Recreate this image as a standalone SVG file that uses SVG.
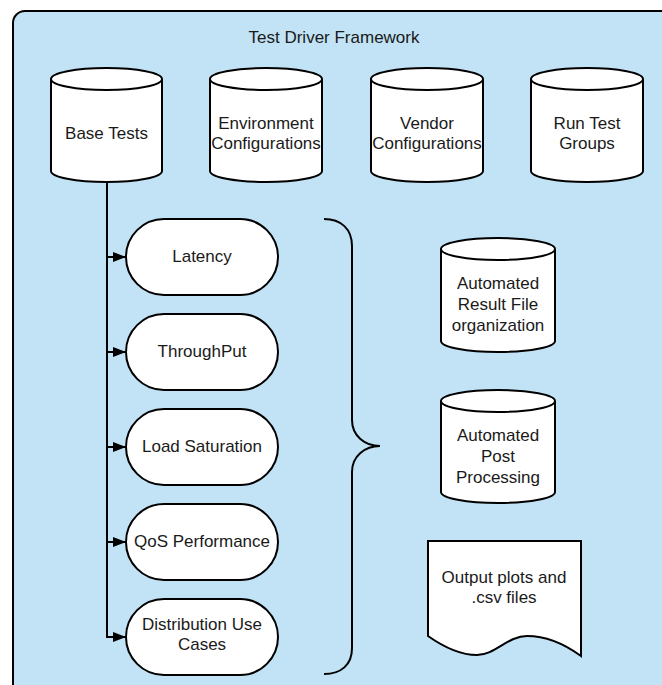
<svg xmlns="http://www.w3.org/2000/svg" width="662" height="685" viewBox="0 0 662 685">
  <style>
    .shape { fill: #ffffff; stroke: #000000; stroke-width: 2; }
    .line { fill: none; stroke: #000000; stroke-width: 2; }
    .label { font-family: "Liberation Sans", Arial, sans-serif; font-size: 17px; fill: #1a1a1a; text-anchor: middle; }
  </style>
  <defs>
    <marker id="arrow" markerUnits="userSpaceOnUse" markerWidth="14" markerHeight="12" refX="13" refY="6" orient="auto">
      <path d="M0,1 L13,6 L0,11 Z" fill="#000000"/>
    </marker>
  </defs>

  <rect width="662" height="685" fill="#ffffff"/>

  <!-- framework container -->
  <g id="framework">
    <rect x="13" y="11" width="720" height="720" rx="12" ry="12" fill="#c1e3f5" stroke="#000000" stroke-width="2"/>
    <text class="label" x="334" y="43">Test Driver Framework</text>
  </g>

  <!-- top row datastores -->
  <g id="base-tests">
    <path class="shape" d="M51,79 A55.5,11 0 0 1 162,79 L162,171 A55.5,11 0 0 1 51,171 Z"/>
    <path class="line" d="M51,79 A55.5,11 0 0 0 162,79"/>
    <text class="label" x="106.5" y="139">Base Tests</text>
  </g>
  <g id="env-config">
    <path class="shape" d="M210,79 A56,11 0 0 1 322,79 L322,171 A56,11 0 0 1 210,171 Z"/>
    <path class="line" d="M210,79 A56,11 0 0 0 322,79"/>
    <text class="label" x="266" y="129">Environment</text>
    <text class="label" x="266" y="149">Configurations</text>
  </g>
  <g id="vendor-config">
    <path class="shape" d="M371,79 A56,11 0 0 1 483,79 L483,171 A56,11 0 0 1 371,171 Z"/>
    <path class="line" d="M371,79 A56,11 0 0 0 483,79"/>
    <text class="label" x="427" y="129">Vendor</text>
    <text class="label" x="427" y="149">Configurations</text>
  </g>
  <g id="run-test-groups">
    <path class="shape" d="M531,79 A56,11 0 0 1 643,79 L643,171 A56,11 0 0 1 531,171 Z"/>
    <path class="line" d="M531,79 A56,11 0 0 0 643,79"/>
    <text class="label" x="587" y="129">Run Test</text>
    <text class="label" x="587" y="149">Groups</text>
  </g>

  <!-- connectors from base tests to test types -->
  <g id="connectors">
    <path class="line" d="M107,182 L107,637"/>
    <path class="line" d="M107,257 L126,257" marker-end="url(#arrow)"/>
    <path class="line" d="M107,352 L126,352" marker-end="url(#arrow)"/>
    <path class="line" d="M107,447 L126,447" marker-end="url(#arrow)"/>
    <path class="line" d="M107,542 L126,542" marker-end="url(#arrow)"/>
    <path class="line" d="M106,637 L126,637" marker-end="url(#arrow)"/>
  </g>

  <!-- test types -->
  <g id="latency">
    <rect class="shape" x="126" y="219" width="152" height="76" rx="38" ry="38"/>
    <text class="label" x="202" y="262">Latency</text>
  </g>
  <g id="throughput">
    <rect class="shape" x="126" y="314" width="152" height="76" rx="38" ry="38"/>
    <text class="label" x="202" y="357">ThroughPut</text>
  </g>
  <g id="load-saturation">
    <rect class="shape" x="126" y="409" width="152" height="76" rx="38" ry="38"/>
    <text class="label" x="202" y="452">Load Saturation</text>
  </g>
  <g id="qos-performance">
    <rect class="shape" x="126" y="504" width="152" height="76" rx="38" ry="38"/>
    <text class="label" x="202" y="547">QoS Performance</text>
  </g>
  <g id="distribution-use-cases">
    <rect class="shape" x="126" y="599" width="152" height="76" rx="38" ry="38"/>
    <text class="label" x="202" y="630">Distribution Use</text>
    <text class="label" x="202" y="650">Cases</text>
  </g>

  <!-- grouping brace -->
  <g id="brace">
    <path class="line" d="M324,219 C341,219 352,229 352,246 L352,420 C352,436 365,446 380,446 C365,446 352,456 352,472 L352,648 C352,665 341,674 324,674"/>
  </g>

  <!-- result handling -->
  <g id="result-organization">
    <path class="shape" d="M441,249 A57,11 0 0 1 555,249 L555,341 A57,11 0 0 1 441,341 Z"/>
    <path class="line" d="M441,249 A57,11 0 0 0 555,249"/>
    <text class="label" x="498" y="289">Automated</text>
    <text class="label" x="498" y="310">Result File</text>
    <text class="label" x="498" y="331">organization</text>
  </g>
  <g id="post-processing">
    <path class="shape" d="M441,401 A57,11 0 0 1 555,401 L555,492 A57,11 0 0 1 441,492 Z"/>
    <path class="line" d="M441,401 A57,11 0 0 0 555,401"/>
    <text class="label" x="498" y="441">Automated</text>
    <text class="label" x="498" y="462">Post</text>
    <text class="label" x="498" y="483">Processing</text>
  </g>
  <g id="output-files">
    <path class="shape" d="M428,541 L581,541 L581,656 C570,648 550,636 527,636 C508,636 495,655 477,655 C460,655 445,648 428,636 Z"/>
    <text class="label" x="504" y="583">Output plots and</text>
    <text class="label" x="504" y="603">.csv files</text>
  </g>
</svg>
